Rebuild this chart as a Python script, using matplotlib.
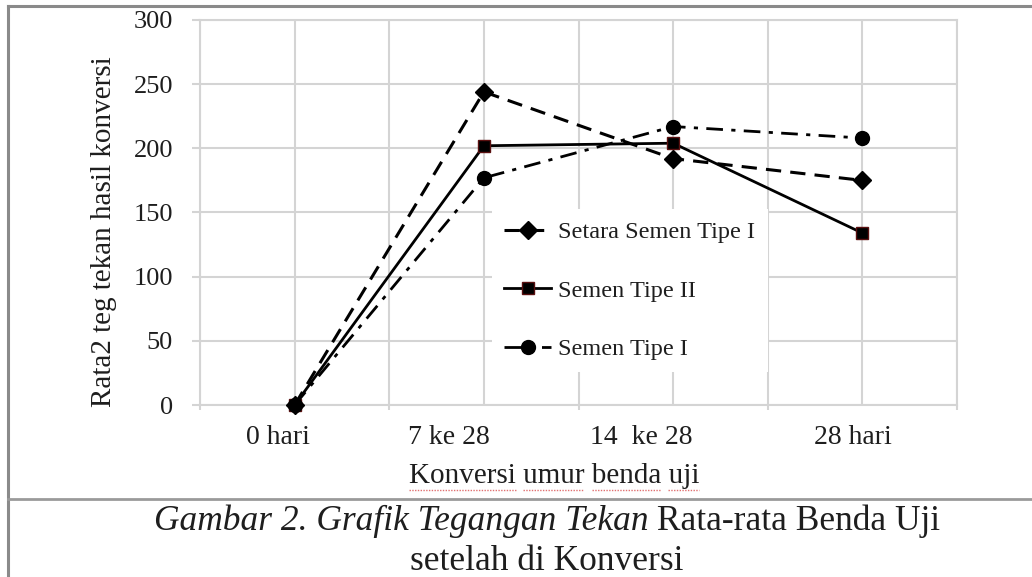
import matplotlib
matplotlib.use("Agg")
import matplotlib.pyplot as plt
from matplotlib.lines import Line2D
import matplotlib.transforms as mtransforms
import numpy as np

categories = ["0 hari", "7 ke 28", "14  ke 28", "28 hari"]
setara_tipe1 = [0, 244, 192, 175]
semen_tipe2 = [0, 202, 204, 134]
semen_tipe1 = [0, 177, 217, 208]
series_labels = ["Setara Semen Tipe I", "Semen Tipe II", "Semen Tipe I"]
y_ticks = [0, 50, 100, 150, 200, 250, 300]

W, H = 1032, 577
fig = plt.figure(figsize=(W / 100, H / 100), dpi=100)
plt.rcParams['font.family'] = ['Liberation Serif', 'DejaVu Serif']

def fx(px):
    return px / W

def fy(py):
    return 1 - py / H

PT = 72 / 100  # points per pixel

ax = fig.add_axes([fx(200), fy(405), fx(957) - fx(200), fy(20) - fy(405)])
x = np.arange(len(categories))
grid_c = "#d4d4d4"
txt_c = "#1e1e1e"

ax.plot(x, setara_tipe1, color="black", lw=2.2, ls=(0, (5, 3)), marker="D",
        ms=9, label=series_labels[0], clip_on=False, zorder=3)
ax.plot(x, semen_tipe2, color="black", lw=2.0, ls="-", marker="s",
        ms=9, mfc="black", mec="#5a1010", label=series_labels[1], clip_on=False, zorder=3)
ax.plot(x, semen_tipe1, color="black", lw=2.0, ls=(0, (6, 3, 1.5, 3)), marker="o",
        ms=10, label=series_labels[2], clip_on=False, zorder=3)

ax.set_xlim(-0.5, len(categories) - 0.5)
ax.set_ylim(0, 300)
ax.set_yticks(y_ticks)
ax.set_xticks(x)
ax.set_xticklabels(categories)
ax.set_xticks(np.arange(-0.5, len(categories), 1.0), minor=True)
ax.grid(True, which="major", axis="both", color=grid_c, lw=1.5, zorder=0)
ax.grid(True, which="minor", axis="x", color=grid_c, lw=1.5, zorder=0)
ax.set_axisbelow(True)
for s in ax.spines.values():
    s.set_color(grid_c)
    s.set_linewidth(1.5)
ax.tick_params(axis="y", which="major", length=8 * PT, width=1.5, color=grid_c,
               labelsize=19, labelcolor=txt_c, pad=19 * PT)
ax.tick_params(axis="x", which="major", length=0, labelsize=20, labelcolor=txt_c,
               pad=20 * PT)
ax.tick_params(axis="x", which="minor", length=5 * PT, width=1.5, color=grid_c)

# the reference's category labels sit a little left of their gridlines
label_shift_px = [-17, -35, -32, -9]
for lab, dx in zip(ax.get_xticklabels(), label_shift_px):
    lab.set_transform(lab.get_transform() +
                      mtransforms.ScaledTranslation(dx / 100, 0, fig.dpi_scale_trans))

leg = ax.legend(loc="upper left", bbox_to_anchor=((492 - 200) / 757, (405 - 209) / 385),
                frameon=True, fancybox=False, edgecolor="none", facecolor="white",
                framealpha=1, fontsize=17.5, labelspacing=1.5, handlelength=1.93,
                handletextpad=0.3, borderpad=0.5, borderaxespad=0)
for t in leg.get_texts():
    t.set_color(txt_c)

# axis labels
fig.text(fx(104), fy(232), "Rata2 teg tekan hasil konversi", rotation=90,
         ha="center", va="center", fontsize=21, color=txt_c)
xl = fig.text(fx(554), fy(483), "Konversi umur benda uji", ha="center", va="baseline",
              fontsize=21, color=txt_c)

# frame lines
fig.add_artist(Line2D([fx(8), 1], [fy(6), fy(6)], color="#8a8a8a", lw=2.2))
fig.add_artist(Line2D([fx(8), fx(8)], [0, fy(6)], color="#8a8a8a", lw=2.2))
fig.add_artist(Line2D([fx(8), 1], [fy(499), fy(499)], color="#9a9a9a", lw=2.0))

# caption
fig.canvas.draw()
r = fig.canvas.get_renderer()
cap_size = 25.5
t1 = fig.text(0, fy(530), "Gambar 2. Grafik Tegangan Tekan", style="italic",
              fontsize=cap_size, ha="left", va="baseline", color=txt_c)
t2 = fig.text(0, fy(530), " Rata-rata Benda Uji", fontsize=cap_size,
              ha="left", va="baseline", color=txt_c)
w1 = t1.get_window_extent(r).width
w2 = t2.get_window_extent(r).width
start = 547 - (w1 + w2) / 2
t1.set_x(fx(start))
t2.set_x(fx(start + w1))
fig.text(fx(547), fy(570), "setelah di Konversi", fontsize=cap_size,
         ha="center", va="baseline", color=txt_c)

# red spell-check underline under x label words
bb = xl.get_window_extent(r)
full = "Konversi umur benda uji"
pos = 0
tmp = fig.text(0, 0, "", fontsize=21)
for w in full.split(" "):
    x0 = bb.x0
    if pos > 0:
        tmp.set_text(full[:pos])
        x0 += tmp.get_window_extent(r).width
    tmp.set_text(w)
    ww = tmp.get_window_extent(r).width
    fig.add_artist(Line2D([x0 / W, (x0 + ww) / W], [(bb.y0 - 1) / H] * 2,
                          color="#e07070", lw=1.0, ls=(0, (1, 1))))
    pos += len(w) + 1
tmp.remove()

fig.savefig("out.png", dpi=100, facecolor="white")
